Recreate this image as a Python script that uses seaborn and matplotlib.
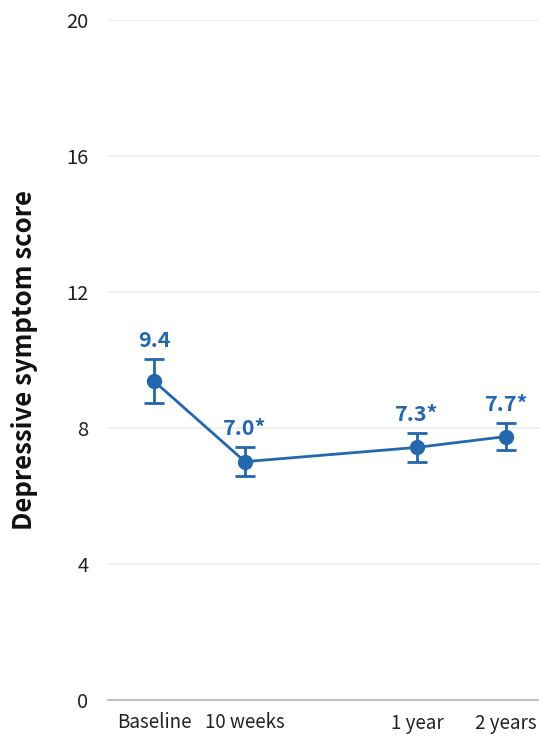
import numpy as np
import pandas as pd
import matplotlib
matplotlib.use("Agg")
import matplotlib.pyplot as plt
import seaborn as sns

# follow-up time points and mean depressive symptom scores
timepoints = ["Baseline", "10 weeks", "1 year", "2 years"]
xpos = [0, 1, 2.89, 3.87]
means = [9.38, 7.01, 7.43, 7.75]
err = [0.65, 0.42, 0.42, 0.39]
point_labels = ["9.4", "7.0*", "7.3*", "7.7*"]
yticks = [0, 4, 8, 12, 16, 20]

blue = "#2368ad"

sns.set_theme(style="white")
plt.rcParams["font.family"] = ["Noto Sans CJK KR", "DejaVu Sans"]

df = pd.DataFrame({"x": xpos, "score": means})

fig = plt.figure(figsize=(5.39, 7.41), dpi=100)
ax = fig.add_axes([108 / 539, 41 / 741, 1 - 108 / 539, 680 / 741])

sns.lineplot(data=df, x="x", y="score", color=blue, linewidth=2,
             marker="o", markersize=11, markeredgewidth=0, ax=ax, zorder=3)
ax.errorbar(xpos, means, yerr=err, fmt="none", ecolor=blue,
            elinewidth=2, capsize=7, capthick=2, zorder=3)

# value labels above the error bars
for x, m, e, lab in zip(xpos, means, err, point_labels):
    ax.annotate(lab, (x, m + e), xytext=(0, 6), textcoords="offset points",
                ha="center", va="bottom", color=blue, fontsize=15.5,
                fontweight="bold")

ax.set_ylim(0, 20)
ax.set_xlim(-0.505, 4.23)
ax.set_yticks(yticks)
ax.set_yticklabels([str(t) for t in yticks], fontsize=14.5, color="#222222",
                   fontweight="light")
ax.set_xticks(xpos)
ax.set_xticklabels(timepoints, fontsize=13.5, color="#222222",
                   fontweight="light")
ax.tick_params(axis="both", length=0)
ax.tick_params(axis="y", pad=14)
ax.tick_params(axis="x", pad=9)

ax.grid(axis="y", color="#ececec", linewidth=1.2)
ax.set_axisbelow(True)
for s in ["top", "right", "left"]:
    ax.spines[s].set_visible(False)
ax.spines["bottom"].set_color("#b5b5b5")
ax.spines["bottom"].set_linewidth(1.2)

ax.set_xlabel("")
ax.set_ylabel("Depressive symptom score", fontsize=18.5, fontweight="bold",
              color="#111111")
ax.yaxis.set_label_coords(-0.163, 0.5)

fig.savefig("out.png", dpi=100)
